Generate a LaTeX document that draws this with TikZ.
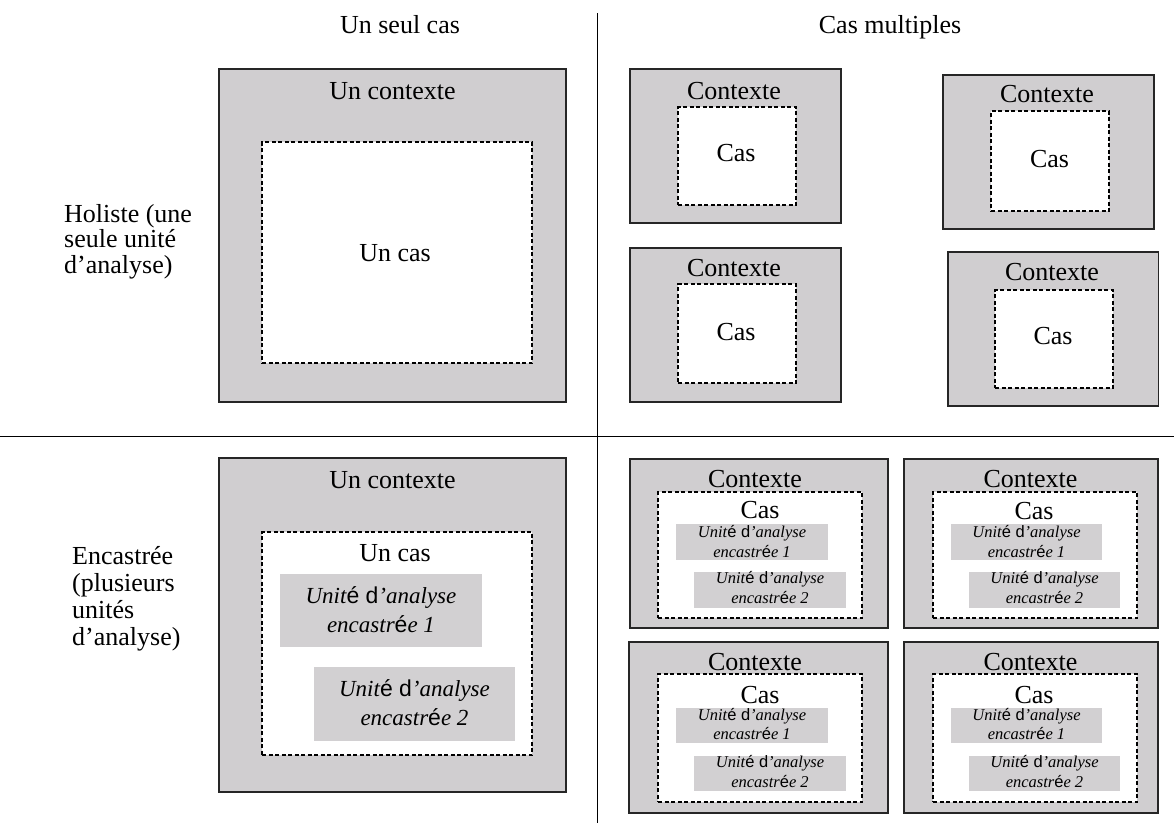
\documentclass[tikz,border=0pt]{standalone}
\usepackage{fontspec}
\setmainfont{Liberation Serif}
\newfontfamily\arialf{Liberation Sans}
\usetikzlibrary{fit}
\definecolor{bggray}{RGB}{208,206,208}
\definecolor{unitgray}{RGB}{210,208,210}
\newcommand\nolsk{\lineskiplimit-50pt\relax}
\newcommand\uname[1]{\strut\textit{Unit{\upshape\arialf é d}’analyse}\\\strut\textit{encastr{\upshape\arialf é}e #1}}
\tikzset{
  ctx/.style={draw=black!85, line width=1.2pt, fill=bggray, inner sep=0pt},
  casebox/.style={draw=black, line width=1.1pt, dash pattern=on 4pt off 2.5pt, fill=white, inner sep=0pt},
  unitbox/.style={draw=none, fill=unitgray, inner sep=0pt},
  lbl/.style={inner sep=0pt, anchor=base, font=\fontsize{26}{28}\selectfont},
  bigunit/.style={inner sep=0pt, anchor=north, align=center, font=\fontsize{23}{29.4}\selectfont\nolsk},
  smallunit/.style={inner sep=0pt, anchor=north, align=center, font=\fontsize{16.5}{19.5}\selectfont\nolsk},
  rowlbl/.style={inner sep=0pt, anchor=north west, align=left},
  divider/.style={draw=black, line width=1pt}
}
\begin{document}
\begin{tikzpicture}[x=1pt, y=-1pt]
\useasboundingbox (0,0) rectangle (1174,825);
% dividers
\coordinate (vt) at (597.5,13);
\coordinate (vb) at (597.5,823);
\coordinate (hl) at (0,436);
\coordinate (hr) at (1174,436);
\draw[divider] (vt) -- (vb);
\draw[divider] (hl) -- (hr);
% headers
\node[lbl] (h1) at (400,33) {Un seul cas};
\node[lbl] (h2) at (890,33) {Cas multiples};
% row labels
\node[rowlbl, font=\fontsize{26}{25.5}\selectfont\nolsk] (r1) at (64,203.9)
  {\strut Holiste (une\\\strut seule unité\\\strut d’analyse)};
\node[rowlbl, font=\fontsize{26}{27}\selectfont\nolsk] (r2) at (72,545.1)
  {\strut Encastrée\\\strut (plusieurs\\\strut unités\\\strut d’analyse)};

% ===== Top-left: holistic single case
\node[ctx, fit={(219,69) (566,402)}] (c1) {};
\node[casebox, fit={(262,142) (532,363)}] (k1) {};
\node[lbl] (c1t) at (392.5,99) {Un contexte};
\node[lbl] (k1t) at (395,261.7) {Un cas};

% ===== Top-right: holistic multiple cases
\node[ctx, fit={(630,69) (841,223)}] (cA) {};
\node[casebox, fit={(678,107) (796,205)}] (kA) {};
\node[lbl] (cAt) at (734,99.3) {Contexte};
\node[lbl] (kAt) at (736,161.7) {Cas};

\node[ctx, fit={(943,75) (1154,229)}] (cB) {};
\node[casebox, fit={(991,111) (1109,211)}] (kB) {};
\node[lbl] (cBt) at (1047,102.7) {Contexte};
\node[lbl] (kBt) at (1049.5,167.3) {Cas};

\node[ctx, fit={(630,248) (841,402)}] (cC) {};
\node[casebox, fit={(678,284) (796,383)}] (kC) {};
\node[lbl] (cCt) at (734,276) {Contexte};
\node[lbl] (kCt) at (736,340) {Cas};

\node[ctx, fit={(948,252) (1158.5,406)}] (cD) {};
\node[casebox, fit={(995,290) (1113,388)}] (kD) {};
\node[lbl] (cDt) at (1052,280) {Contexte};
\node[lbl] (kDt) at (1053,344) {Cas};

% ===== Bottom-left: embedded single case
\node[ctx, fit={(219,458) (566,792)}] (c2) {};
\node[casebox, fit={(262,532) (532,755)}] (k2) {};
\node[lbl] (c2t) at (392.5,488.3) {Un contexte};
\node[lbl] (k2t) at (395,561.7) {Un cas};
\node[unitbox, fit={(280,574) (482,647)}] (u21) {};
\node[bigunit] (u21t) at (381,582.7) {\uname{1}};
\node[unitbox, fit={(314,667) (515,741)}] (u22) {};
\node[bigunit] (u22t) at (414.5,675.4) {\uname{2}};

% ===== Bottom-right: embedded multiple cases
% E
\node[ctx, fit={(630,459) (888,628)}] (cE) {};
\node[casebox, fit={(658,492) (862,618)}] (kE) {};
\node[lbl] (cEt) at (755,487.3) {Contexte};
\node[lbl] (kEt) at (760,518.3) {Cas};
\node[unitbox, fit={(676,524) (828,560)}] (uE1) {};
\node[smallunit] (uE1t) at (752,523.7) {\uname{1}};
\node[unitbox, fit={(694,572) (846,608)}] (uE2) {};
\node[smallunit] (uE2t) at (770,569.7) {\uname{2}};
% F
\node[ctx, fit={(904,459) (1158,628)}] (cF) {};
\node[casebox, fit={(933,492) (1137,618)}] (kF) {};
\node[lbl] (cFt) at (1030.5,487.3) {Contexte};
\node[lbl] (kFt) at (1034,519) {Cas};
\node[unitbox, fit={(951,524) (1102,560)}] (uF1) {};
\node[smallunit] (uF1t) at (1026.5,523.7) {\uname{1}};
\node[unitbox, fit={(969,572) (1120,608)}] (uF2) {};
\node[smallunit] (uF2t) at (1044.5,569.7) {\uname{2}};
% G
\node[ctx, fit={(629,642) (888,813)}] (cG) {};
\node[casebox, fit={(658,674) (862,802)}] (kG) {};
\node[lbl] (cGt) at (755,670) {Contexte};
\node[lbl] (kGt) at (760,703.3) {Cas};
\node[unitbox, fit={(676,708) (828,743)}] (uG1) {};
\node[smallunit] (uG1t) at (752,706.4) {\uname{1}};
\node[unitbox, fit={(694,756) (846,791)}] (uG2) {};
\node[smallunit] (uG2t) at (770,753.7) {\uname{2}};
% H
\node[ctx, fit={(904,642) (1158,813)}] (cH) {};
\node[casebox, fit={(933,674) (1137,802)}] (kH) {};
\node[lbl] (cHt) at (1030.5,670) {Contexte};
\node[lbl] (kHt) at (1034,703.3) {Cas};
\node[unitbox, fit={(951,708) (1102,743)}] (uH1) {};
\node[smallunit] (uH1t) at (1026.5,706.4) {\uname{1}};
\node[unitbox, fit={(969,756) (1120,791)}] (uH2) {};
\node[smallunit] (uH2t) at (1044.5,753.7) {\uname{2}};
\end{tikzpicture}
\end{document}
